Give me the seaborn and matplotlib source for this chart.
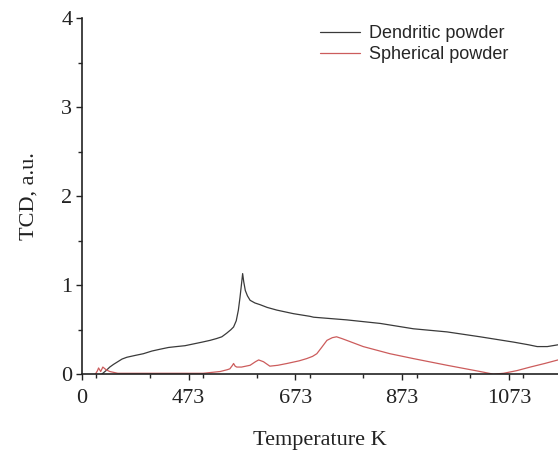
import numpy as np
import pandas as pd
import matplotlib
matplotlib.use("Agg")
import matplotlib.pyplot as plt
import seaborn as sns
from matplotlib.ticker import MultipleLocator

# Dendritic powder (temperature K, TCD a.u.)
dend_T = [310, 314, 318, 325, 332, 340, 348, 357, 372, 388, 404, 419, 435, 450, 466, 482, 498, 513,
          525, 535, 544, 552, 557, 562, 566, 569, 572, 574, 576, 579, 583, 588, 597, 607, 620, 638,
          669, 700, 707, 769, 832, 894, 957, 1019, 1082, 1110, 1126, 1145, 1165]
dend_y = [0.00, 0.02, 0.04, 0.08, 0.11, 0.14, 0.17, 0.19, 0.21, 0.23, 0.26, 0.28, 0.30, 0.31, 0.32,
          0.34, 0.36, 0.38, 0.40, 0.42, 0.46, 0.50, 0.53, 0.60, 0.72, 0.86, 1.02, 1.13, 1.04, 0.94,
          0.88, 0.83, 0.80, 0.78, 0.75, 0.72, 0.68, 0.65, 0.64, 0.61, 0.57, 0.51, 0.475, 0.42, 0.36,
          0.33, 0.31, 0.31, 0.33]

# Spherical powder
sph_T = [298, 302, 304, 308, 312, 318, 325, 340, 357, 400, 450, 500, 532, 545, 550, 555,
         557, 560, 563, 572, 588, 598, 604, 613, 625, 640, 657, 680, 694, 705, 713, 722,
         732, 742, 750, 760, 769, 800, 850, 894, 957, 1019, 1044, 1063, 1088, 1113, 1140, 1165]
sph_y = [0.00, 0.04, 0.07, 0.03, 0.08, 0.05, 0.03, 0.01, 0.01, 0.01, 0.01, 0.01, 0.03, 0.05, 0.06, 0.10,
         0.12, 0.09, 0.08, 0.08, 0.10, 0.14, 0.16, 0.14, 0.09, 0.10, 0.12, 0.15, 0.175, 0.20, 0.23, 0.30,
         0.38, 0.41, 0.42, 0.40, 0.38, 0.31, 0.23, 0.175, 0.10, 0.03, 0.00, 0.01, 0.04, 0.08, 0.12, 0.16]

tick_pos = [273, 473, 673, 873, 1073]
tick_labels = ["0", "473", "673", "873", "1073"]

sns.set_style("ticks")
plt.rcParams['font.family'] = ['Liberation Serif', 'DejaVu Serif']

fig = plt.figure(figsize=(5.58, 4.53), dpi=100)
ax = fig.add_axes([0.147, 0.174, 0.853, 0.786])

df = pd.concat([
    pd.DataFrame({"T": dend_T, "TCD": dend_y, "series": "Dendritic powder"}),
    pd.DataFrame({"T": sph_T, "TCD": sph_y, "series": "Spherical powder"}),
])
sns.lineplot(data=df, x="T", y="TCD", hue="series", sort=False,
             palette={"Dendritic powder": "#3a3a3a", "Spherical powder": "#cc5c5c"},
             linewidth=0.9, ax=ax)

ax.set_xlim(273, 1165)
ax.set_ylim(0, 4)
ax.set_xticks(tick_pos)
ax.set_xticklabels(tick_labels)
ax.xaxis.set_minor_locator(MultipleLocator(100))
ax.set_yticks([0, 1, 2, 3, 4])
ax.yaxis.set_minor_locator(MultipleLocator(0.5))
ax.tick_params(which='major', length=4, width=1, labelsize=16, colors='#222222')
ax.tick_params(which='minor', length=3, width=1)
ax.tick_params(axis='x', pad=7)
ax.tick_params(axis='y', pad=3)
for s in ['left', 'bottom']:
    ax.spines[s].set_linewidth(1.2)
    ax.spines[s].set_color('#222222')
sns.despine(ax=ax)

ax.set_xlabel("Temperature K", fontsize=16, labelpad=16, color='#222222')
ax.set_ylabel("TCD, a.u.", fontsize=16, labelpad=16, color='#222222')

leg = ax.legend(loc='upper right', bbox_to_anchor=(0.93, 1.025), frameon=False,
                prop={'family': 'Liberation Sans', 'size': 13},
                handlelength=2.2, handletextpad=0.5, labelspacing=0.22)
for line in leg.get_lines():
    line.set_linewidth(0.9)

fig.savefig("out.png", dpi=100)
